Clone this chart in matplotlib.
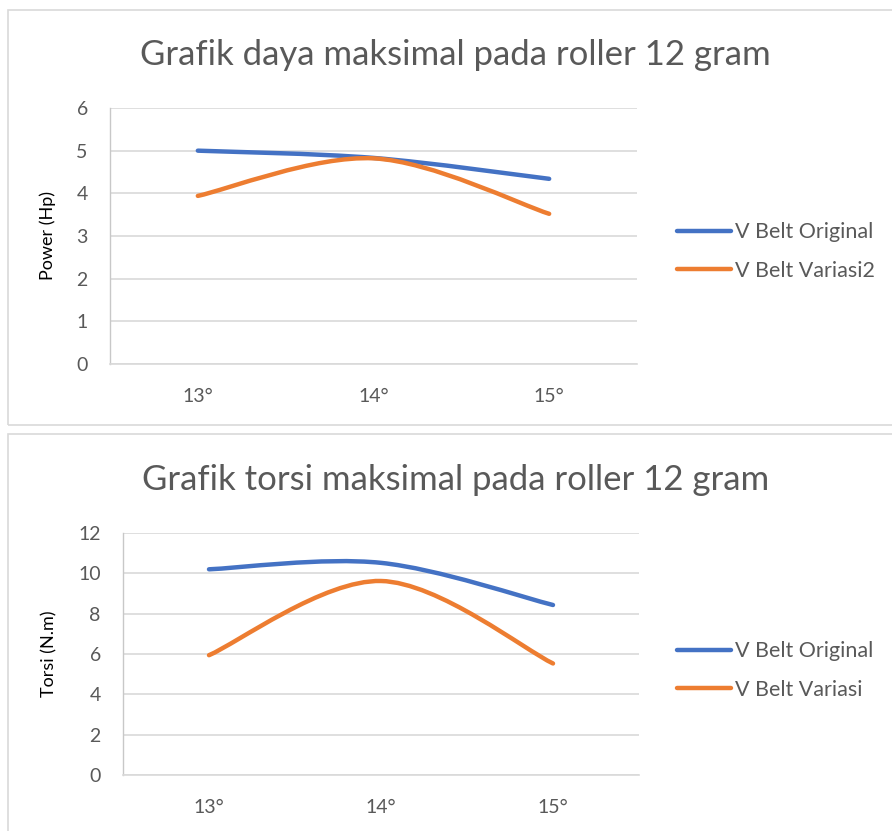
import numpy as np
import matplotlib
matplotlib.use('Agg')
import matplotlib.pyplot as plt
from matplotlib.path import Path
from matplotlib.patches import PathPatch, Rectangle
from matplotlib.lines import Line2D

plt.rcParams['font.family'] = ['Lato', 'DejaVu Sans']

categories = ['13°', '14°', '15°']

power_original = [5.0, 4.83, 4.34]
power_variasi2 = [3.94, 4.82, 3.52]

torsi_original = [10.2, 10.52, 8.43]
torsi_variasi = [5.94, 9.62, 5.53]

BLUE = '#4472C4'
ORANGE = '#ED7D31'
GREY = '#595959'
GRID = '#D9D9D9'

W, H = 892, 831


def smooth_path(ys):
    # Excel style smoothed line: cubic bezier through each point
    pts = np.column_stack([np.arange(len(ys)), ys]).astype(float)
    n = len(pts)
    verts = [pts[0]]
    codes = [Path.MOVETO]
    for i in range(n - 1):
        p0 = pts[max(i - 1, 0)]
        p1 = pts[i]
        p2 = pts[i + 1]
        p3 = pts[min(i + 2, n - 1)]
        verts += [p1 + (p2 - p0) / 6, p2 - (p3 - p1) / 6, p2]
        codes += [Path.CURVE4] * 3
    return Path(verts, codes)


def fx(px):
    return px / W


def fy(py):
    return 1 - py / H


fig = plt.figure(figsize=(W / 100, H / 100), dpi=100)

# chart boxes
fig.patches.append(Rectangle((fx(8), fy(425)), 1.02, fy(10) - fy(425),
                             transform=fig.transFigure, fill=False,
                             edgecolor=GRID, lw=1.2))
fig.patches.append(Rectangle((fx(8), -0.02), 1.02, fy(434) + 0.02,
                             transform=fig.transFigure, fill=False,
                             edgecolor=GRID, lw=1.2))


def make_chart(rect, title, title_y, ylabel, ylabel_x, ymax, ystep,
               s1, s2, names, leg_y):
    ax = fig.add_axes(rect)
    ax.add_patch(PathPatch(smooth_path(s1), facecolor='none', edgecolor=BLUE,
                           lw=3.2, capstyle='round', joinstyle='round'))
    ax.add_patch(PathPatch(smooth_path(s2), facecolor='none', edgecolor=ORANGE,
                           lw=3.2, capstyle='round', joinstyle='round'))
    ax.set_xlim(-0.5, len(categories) - 0.5)
    ax.set_ylim(0, ymax)
    ax.set_yticks(np.arange(0, ymax + ystep / 2, ystep))
    ax.set_xticks(range(len(categories)))
    ax.set_xticklabels(categories)
    ax.tick_params(axis='both', length=0, labelsize=14, labelcolor=GREY)
    ax.tick_params(axis='y', pad=16)
    ax.tick_params(axis='x', pad=17)
    ax.grid(axis='y', color=GRID, lw=1.2)
    ax.set_axisbelow(True)
    for side in ['top', 'right']:
        ax.spines[side].set_visible(False)
    ax.spines['left'].set_color('#C8C8C8')
    ax.spines['bottom'].set_color(GRID)
    ax.spines['left'].set_linewidth(1)
    ax.spines['bottom'].set_linewidth(1.2)
    ax.set_ylabel(ylabel, fontsize=13, color='black')
    ax.yaxis.set_label_coords(ylabel_x, 0.5)
    fig.text(fx(455.5), fy(title_y), title, ha='center', va='baseline',
             fontsize=25, color=GREY)
    handles = [Line2D([], [], color=BLUE, lw=3.2, solid_capstyle='round'),
               Line2D([], [], color=ORANGE, lw=3.2, solid_capstyle='round')]
    fig.legend(handles, names, loc='center left',
               bbox_to_anchor=(fx(677), fy(leg_y)), frameon=False,
               fontsize=15.5, labelcolor=GREY, handlelength=2.5,
               handletextpad=0.2, labelspacing=0.85, borderpad=0,
               borderaxespad=0)
    return ax


make_chart([fx(110), fy(364), fx(637) - fx(110), fy(108) - fy(364)],
           'Grafik daya maksimal pada roller 12 gram', 65,
           'Power (Hp)', (56 - 110) / 527, 6, 1,
           power_original, power_variasi2,
           ['V Belt Original', 'V Belt Variasi2'], 251.5)

make_chart([fx(123), fy(775), fx(639) - fx(123), fy(533) - fy(775)],
           'Grafik torsi maksimal pada roller 12 gram', 490,
           'Torsi (N.m)', (57 - 123) / 516, 12, 2,
           torsi_original, torsi_variasi,
           ['V Belt Original', 'V Belt Variasi'], 670.5)

fig.savefig('out.png', dpi=100)
